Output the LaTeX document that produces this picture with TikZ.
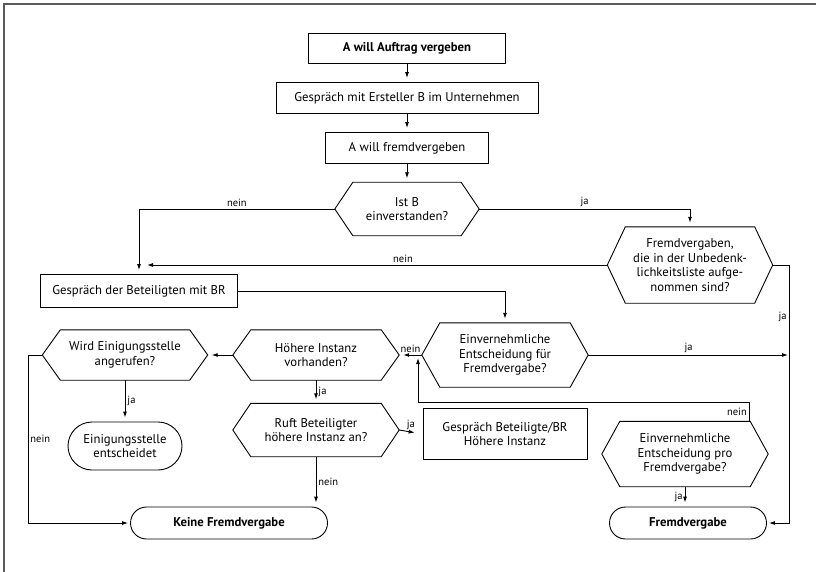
\documentclass[tikz,border=0pt]{standalone}
\usepackage{fontspec}
\setmainfont{PT Sans}
\usetikzlibrary{arrows.meta,shapes.misc}
\tikzset{
x=1pt, y=-1pt,
>={Latex[length=6pt,width=4pt]},
wh/.style 2 args={minimum width=#1pt, minimum height=#2pt},
box/.style=
    {draw,
    rectangle,
    line width=0.9pt,
    align=center,
    inner sep=0pt,
    font=\fontsize{12.7}{14.7}\selectfont
    },
dec/.style=
    {rectangle,
    align=center,
    inner sep=0pt,
    font=\fontsize{12.7}{14.7}\selectfont
    },
term/.style=
    {draw,
    rounded rectangle,
    line width=0.9pt,
    align=center,
    inner sep=0pt,
    font=\fontsize{12.7}{14.7}\selectfont
    },
lbl/.style=
    {font=\fontsize{10.5}{12}\selectfont,
    inner sep=2pt
    },
flow/.style=
    {draw,
    line width=0.9pt,
    shorten >=4pt,
    ->
    },
frame/.style=
    {draw=black!65,
    line width=1.5pt
    }}

\begin{document}
\begin{tikzpicture}
\useasboundingbox (0,0) rectangle (816,572);
\draw[frame] (4,572) -- (4,4) -- (816,4);

\node[box,wh={197}{30}] (start) at (407,48) {\textbf{A will Auftrag vergeben}};
\node[box,wh={262}{31}] (gespr) at (407,98) {Gespräch mit Ersteller B im Unternehmen};
\node[box,wh={163}{31}] (fremd) at (407,148) {A will fremdvergeben};
\node[dec,wh={144}{53}] (istb) at (407,209) {Ist B\\einverstanden?};
\node[dec,wh={165}{76}] (liste) at (690,265) {Fremdvergaben,\\die in der Unbedenk-\\lichkeitsliste aufge-\\nommen sind?};
\node[box,wh={197}{33}] (gbr) at (139,291) {Gespräch der Beteiligten mit BR};
\node[dec,wh={166}{64}] (einv) at (505,355) {Einvernehmliche\\Entscheidung für\\Fremdvergabe?};
\node[dec,wh={166}{50}] (hoeher) at (316,355) {Höhere Instanz\\vorhanden?};
\node[dec,wh={165}{50}] (wird) at (125,355) {Wird Einigungsstelle\\angerufen?};
\node[term,wh={114}{48}] (eini) at (125,446) {Einigungsstelle\\entscheidet};
\node[dec,wh={166}{53}] (ruft) at (316,430) {Ruft Beteiligter\\höhere Instanz an?};
\node[box,wh={164}{51}] (gbrh) at (505,434) {Gespräch Beteiligte/BR\\Höhere Instanz};
\node[dec,wh={166}{65}] (pro) at (685,454) {Einvernehmliche\\Entscheidung pro\\Fremdvergabe?};
\node[term,wh={197}{32}] (keine) at (229,523) {\textbf{Keine Fremdvergabe}};
\node[term,wh={157}{32}] (fv) at (688,523) {\textbf{Fremdvergabe}};

\foreach \n in {istb,liste,einv,hoeher,wird,ruft,pro}
  \draw[line width=0.9pt] (\n.west) -- ([xshift=18pt]\n.north west) -- ([xshift=-18pt]\n.north east)
    -- (\n.east) -- ([xshift=-18pt]\n.south east) -- ([xshift=18pt]\n.south west) -- cycle;

\coordinate (nein1) at (143,265);
\coordinate (rr) at (789,265);
\coordinate (ll) at (28,355);
\coordinate (loop) at (418,402);
\coordinate (back) at (418,354);

\draw[flow] (start) -- (gespr);
\draw[flow] (gespr) -- (fremd);
\draw[flow] (fremd) -- (istb);
\draw[flow] (istb.west) -| node[lbl,above,pos=0.25]{nein} (gbr.north);
\draw[flow] (istb.east) -| node[lbl,above,pos=0.25]{ja} (liste.north);
\draw[flow] (liste.west) -- node[lbl,above,pos=0.44]{nein} (nein1);
\draw[flow,shorten >=2pt] (liste.east) -- (rr) |- node[lbl,left,pos=0.1]{ja} (fv.east);
\draw[flow] (gbr.east) -| (einv.north);
\draw[flow,shorten >=1pt] (einv.east) -- node[lbl,above]{ja} (einv.east -| rr);
\draw[flow] (einv.west) -- node[lbl,above]{nein} (hoeher.east);
\draw[flow] ([xshift=-19pt]pro.north east) |- node[lbl,left,pos=0.25]{nein} (loop) -- (back);
\draw[flow] (hoeher.west) -- (wird.east);
\draw[flow,shorten >=2pt] (wird.west) -- (ll) |- node[lbl,right,pos=0.25]{nein} (keine.west);
\draw[flow] (wird.south) -- node[lbl,right]{ja} (eini.north);
\draw[flow] (hoeher.south) -- node[lbl,right]{ja} (ruft.north);
\draw[flow,shorten >=8pt] (ruft.east) -- node[lbl,above]{ja} (gbrh.west);
\draw[flow] (ruft.south) -- node[lbl,right]{nein} (ruft.south |- keine.north);
\draw[flow] (pro.south) -- node[lbl,left]{ja} (pro.south |- fv.north);
\end{tikzpicture}
\end{document}
